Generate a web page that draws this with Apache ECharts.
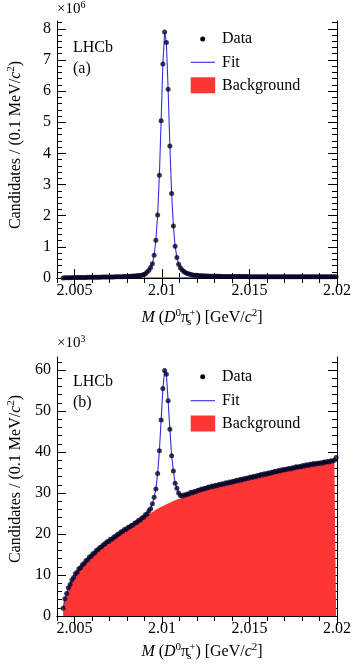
<!DOCTYPE html>
<html><head><meta charset="utf-8">
<script src="https://cdn.jsdelivr.net/npm/echarts@6/dist/echarts.min.js"></script>
<style>html,body{margin:0;padding:0;background:#fff}#c{width:354px;height:668px}</style>
</head><body><div id="c"></div><script>
// ---- binning (GeV): first bin centre and bin width (0.1 MeV) ----
const firstBinCenter = 2.00435;
const binWidth = 0.0001;
const xMin = 2.004, xMax = 2.02;
const xMajorTicks = [2.005, 2.01, 2.015, 2.02];
const xTickLabels = ['2.005', '2.01', '2.015', '2.02'];
const topYTicks = [0, 1, 2, 3, 4, 5, 6, 7, 8];
const bottomYTicks = [0, 10, 20, 30, 40, 50, 60];

// ---- panel (a): candidates ×10^6 ----
const topCounts = [
0.003,0.006,0.008,0.010,0.011,0.012,0.013,0.014,
0.015,0.016,0.017,0.018,0.019,0.020,0.021,0.022,0.023,0.024,
0.025,0.026,0.027,0.028,0.029,0.030,0.031,0.032,0.033,0.034,
0.035,0.036,0.037,0.038,0.040,0.042,0.044,0.046,0.048,0.051,
0.054,0.058,0.062,0.067,0.072,0.078,0.084,0.091,0.11,0.14,
0.19,0.25,0.34,0.46,0.73,1.21,2.02,3.30,5.05,6.87,
7.90,7.56,6.06,4.24,2.71,1.67,1.02,0.66,0.44,0.33,
0.26,0.21,0.17,0.145,0.125,0.11,0.10,0.092,0.086,0.080,
0.076,0.072,0.069,0.066,0.064,0.062,0.060,0.058,0.057,0.056,
0.055,0.054,0.053,0.052,0.051,0.050,0.050,0.049,0.048,0.048,
0.047,0.047,0.046,0.046,0.046,0.045,0.045,0.045,0.044,0.044,
0.044,0.044,0.043,0.043,0.043,0.043,0.043,0.042,0.042,0.042,
0.042,0.042,0.042,0.041,0.041,0.041,0.041,0.041,0.041,0.041,
0.041,0.041,0.041,0.041,0.041,0.040,0.040,0.040,0.040,0.040,
0.040,0.040,0.040,0.040,0.040,0.040,0.040,0.040,0.040,0.040,
0.040,0.040,0.040,0.040,0.040,0.040,0.040,0.040,0.040];
const topFit = topCounts; // fit passes through the (high-statistics) points
const topBackground = [
0.002,0.004,0.006,0.007,0.008,0.009,0.009,0.010,
0.011,0.011,0.012,0.012,0.013,0.013,0.014,0.014,0.015,0.015,
0.016,0.016,0.016,0.017,0.017,0.017,0.018,0.018,0.018,0.019,
0.019,0.019,0.020,0.020,0.020,0.021,0.021,0.021,0.021,0.022,
0.022,0.022,0.022,0.023,0.023,0.023,0.023,0.024,0.024,0.024,
0.024,0.025,0.025,0.025,0.025,0.026,0.026,0.026,0.026,0.026,
0.027,0.027,0.027,0.027,0.027,0.028,0.028,0.028,0.028,0.028,
0.029,0.029,0.029,0.029,0.029,0.029,0.030,0.030,0.030,0.030,
0.030,0.030,0.031,0.031,0.031,0.031,0.031,0.031,0.031,0.032,
0.032,0.032,0.032,0.032,0.032,0.032,0.032,0.032,0.032,0.032,
0.032,0.033,0.033,0.033,0.033,0.033,0.033,0.033,0.033,0.033,
0.033,0.033,0.033,0.033,0.033,0.034,0.034,0.034,0.034,0.034,
0.034,0.034,0.034,0.034,0.034,0.034,0.034,0.034,0.034,0.034,
0.034,0.035,0.035,0.035,0.035,0.035,0.035,0.035,0.035,0.035,
0.035,0.035,0.035,0.035,0.035,0.035,0.035,0.035,0.035,0.035,
0.035,0.036,0.036,0.036,0.036,0.036,0.036,0.036,0.036];

// ---- panel (b): candidates ×10^3 ----
const bottomCounts = [
1.9,4.2,5.5,6.9,7.7,8.8,9.4,10.3,
10.7,11.5,11.8,12.5,12.8,13.5,13.7,14.4,14.6,15.2,
15.4,16.0,16.2,16.7,16.9,17.4,17.6,18.1,18.2,18.7,
18.8,19.3,19.4,19.9,20.0,20.5,20.6,21.1,21.1,21.6,
21.7,22.1,22.2,22.7,22.8,23.3,23.4,23.9,24.1,24.7,
24.9,25.7,26.2,27.4,28.95,31.0,34.8,40.3,47.8,55.5,
59.9,59.0,52.5,45.6,39.1,35.4,32.4,31.2,30.0,29.4,
29.3,29.5,29.5,29.8,29.8,30.2,30.1,30.4,30.4,30.7,
30.7,31.0,30.9,31.2,31.2,31.5,31.4,31.7,31.6,31.9,
31.8,32.1,32.0,32.3,32.2,32.5,32.4,32.7,32.6,32.9,
32.8,33.1,33.0,33.3,33.2,33.5,33.4,33.7,33.6,33.9,
33.8,34.1,34.0,34.3,34.2,34.5,34.4,34.7,34.6,34.9,
34.8,35.1,35.0,35.3,35.2,35.5,35.4,35.7,35.6,35.8,
35.8,36.0,35.9,36.2,36.1,36.4,36.3,36.5,36.4,36.7,
36.6,36.9,36.7,37.0,36.9,37.2,37.0,37.3,37.2,37.4,
37.3,37.6,37.5,37.7,37.6,37.9,37.8,38.0,38.7];
const bottomFit = [
1.9,4.1,5.6,6.8,7.8,8.7,9.5,10.2,
10.8,11.4,11.9,12.4,12.9,13.4,13.8,14.3,14.7,15.1,
15.5,15.9,16.3,16.6,17.0,17.3,17.7,18.0,18.3,18.6,
18.9,19.2,19.5,19.8,20.1,20.4,20.7,21.0,21.2,21.5,
21.8,22.0,22.3,22.6,22.9,23.2,23.5,23.8,24.2,24.6,
25.0,25.6,26.3,27.3,28.95,31.0,34.8,40.3,47.8,55.5,
59.9,59.0,52.5,45.6,39.1,35.4,32.4,31.2,30.0,29.5,
29.35,29.4,29.55,29.7,29.85,30.0,30.15,30.3,30.45,30.6,
30.75,30.9,31.0,31.15,31.3,31.4,31.5,31.6,31.7,31.8,
31.9,32.0,32.1,32.2,32.3,32.4,32.5,32.6,32.7,32.8,
32.9,33.0,33.1,33.2,33.3,33.4,33.5,33.6,33.7,33.8,
33.9,34.0,34.1,34.2,34.3,34.4,34.5,34.6,34.7,34.8,
34.9,35.0,35.1,35.2,35.3,35.4,35.5,35.55,35.65,35.75,
35.85,35.9,36.0,36.1,36.2,36.25,36.35,36.4,36.5,36.6,
36.65,36.75,36.8,36.9,36.95,37.05,37.1,37.2,37.25,37.35,
37.4,37.5,37.55,37.65,37.7,37.75,37.85,37.9,38.0];
const bottomBackground = [
1.9,4.1,5.6,6.8,7.8,8.7,9.5,10.2,
10.8,11.4,11.9,12.4,12.9,13.4,13.8,14.3,14.7,15.1,
15.5,15.9,16.3,16.6,17.0,17.3,17.7,18.0,18.3,18.6,
18.9,19.2,19.5,19.8,20.1,20.4,20.7,21.0,21.2,21.5,
21.8,22.0,22.3,22.55,22.85,23.15,23.45,23.75,24.05,24.35,
24.6,24.9,25.15,25.4,25.65,25.9,26.15,26.4,26.6,26.85,
27.05,27.25,27.45,27.65,27.85,28.05,28.2,28.4,28.55,28.7,
28.85,29.0,29.15,29.3,29.45,29.6,29.75,29.9,30.05,30.2,
30.3,30.45,30.6,30.7,30.85,30.95,31.1,31.2,31.3,31.45,
31.55,31.65,31.8,31.9,32.0,32.1,32.2,32.3,32.4,32.5,
32.6,32.7,32.8,32.9,33.0,33.1,33.2,33.3,33.4,33.5,
33.6,33.7,33.8,33.9,34.0,34.1,34.2,34.3,34.4,34.5,
34.6,34.7,34.8,34.9,35.0,35.1,35.2,35.25,35.35,35.45,
35.55,35.6,35.7,35.8,35.9,35.95,36.05,36.1,36.2,36.3,
36.35,36.45,36.5,36.6,36.65,36.75,36.8,36.9,36.95,37.05,
37.1,37.2,37.25,37.35,37.4,37.45,37.55,37.6,37.7];

// ---------------------------------------------------------------
const FONT = 'Liberation Serif';
const RED = '#fd3535', BLUE = '#2f2fe0', DOT = '#06062a';
const pairs = arr => arr.map((v, i) => [+(firstBinCenter + i * binWidth).toFixed(5), v]);
const xMinorTicks = []; for (let k = 0; k <= 16; k++) xMinorTicks.push(+(xMin + k * 0.001).toFixed(3));
function minorList(max, step) { const a = []; for (let v = 0; v <= max + 1e-9; v += step) a.push(+v.toFixed(4)); return a; }

const grids = [
  { left: 57, top: 21, width: 283, height: 257 },
  { left: 57, top: 357, width: 283, height: 259 }
];
const yMax = [8.25, 63.2];
const yMajor = [topYTicks, bottomYTicks];
const yMinor = [minorList(8.25, 0.2), minorList(63.2, 2)];

const xAxes = [], yAxes = [];
const lineSty = { show: true, lineStyle: { color: '#000', width: 1 } };
for (let g = 0; g < 2; g++) {
  xAxes.push({ gridIndex: g, type: 'value', min: xMin, max: xMax, position: 'bottom', axisLine: lineSty,
    axisTick: { show: true, inside: true, length: 9, customValues: xMajorTicks, lineStyle: { color: '#000' } },
    axisLabel: { show: true, customValues: xMajorTicks, margin: 5, color: '#000', fontFamily: FONT, fontSize: 16,
      formatter: v => xTickLabels[xMajorTicks.findIndex(t => Math.abs(t - v) < 1e-7)] || '' },
    splitLine: { show: false } });
  xAxes.push({ gridIndex: g, type: 'value', min: xMin, max: xMax, position: 'bottom', axisLine: { show: false },
    axisTick: { show: true, inside: true, length: 5, customValues: xMinorTicks, lineStyle: { color: '#000' } },
    axisLabel: { show: false }, splitLine: { show: false } });
  xAxes.push({ gridIndex: g, type: 'value', min: xMin, max: xMax, position: 'top', axisLine: lineSty,
    axisTick: { show: true, inside: true, length: 9, customValues: xMajorTicks, lineStyle: { color: '#000' } },
    axisLabel: { show: false }, splitLine: { show: false } });
  xAxes.push({ gridIndex: g, type: 'value', min: xMin, max: xMax, position: 'top', axisLine: { show: false },
    axisTick: { show: true, inside: true, length: 5, customValues: xMinorTicks, lineStyle: { color: '#000' } },
    axisLabel: { show: false }, splitLine: { show: false } });
  yAxes.push({ gridIndex: g, type: 'value', min: 0, max: yMax[g], position: 'left', axisLine: lineSty,
    axisTick: { show: true, inside: true, length: 9, customValues: yMajor[g], lineStyle: { color: '#000' } },
    axisLabel: { show: true, customValues: yMajor[g], margin: 6, color: '#000', fontFamily: FONT, fontSize: 16 },
    splitLine: { show: false } });
  yAxes.push({ gridIndex: g, type: 'value', min: 0, max: yMax[g], position: 'left', axisLine: { show: false },
    axisTick: { show: true, inside: true, length: 5, customValues: yMinor[g], lineStyle: { color: '#000' } },
    axisLabel: { show: false }, splitLine: { show: false } });
  yAxes.push({ gridIndex: g, type: 'value', min: 0, max: yMax[g], position: 'right', axisLine: lineSty,
    axisTick: { show: true, inside: true, length: 9, customValues: yMajor[g], lineStyle: { color: '#000' } },
    axisLabel: { show: false }, splitLine: { show: false } });
  yAxes.push({ gridIndex: g, type: 'value', min: 0, max: yMax[g], position: 'right', axisLine: { show: false },
    axisTick: { show: true, inside: true, length: 5, customValues: yMinor[g], lineStyle: { color: '#000' } },
    axisLabel: { show: false }, splitLine: { show: false } });
}

const panels = [
  { data: topCounts, fit: topFit, bg: topBackground },
  { data: bottomCounts, fit: bottomFit, bg: bottomBackground }
];
const series = [];
panels.forEach((p, g) => {
  const xi = g * 4, yi = g * 4;
  series.push({ type: 'line', xAxisIndex: xi, yAxisIndex: yi, data: pairs(p.bg), showSymbol: false, symbol: 'none',
    lineStyle: { width: 0, color: RED }, areaStyle: { color: RED, opacity: 1 }, silent: true, z: 2 });
  series.push({ type: 'line', xAxisIndex: xi, yAxisIndex: yi, data: pairs(p.fit), showSymbol: false, symbol: 'none',
    lineStyle: { width: 1.1, color: BLUE }, silent: true, z: 3 });
  series.push({ type: 'scatter', xAxisIndex: xi, yAxisIndex: yi, data: pairs(p.data), symbol: 'circle', symbolSize: 5,
    itemStyle: { color: DOT }, silent: true, z: 4 });
});

const rich = {
  i: { fontStyle: 'italic', fontFamily: FONT, fontSize: 16, fill: '#000' },
  n: { fontFamily: FONT, fontSize: 16, fill: '#000' },
  sup: { fontFamily: FONT, fontSize: 11, fill: '#000', verticalAlign: 'top', lineHeight: 10 },
  sub: { fontFamily: FONT, fontSize: 11, fill: '#000', verticalAlign: 'bottom', lineHeight: 10, width: 0 }
};
const xTitle = '{i|M}{n| (}{i|D}{sup|0}{n|π}{sub|s}{sup|+}{n|) [GeV/}{i|c}{sup|2}{n|]}';
const yTitle = '{n|Candidates / (0.1 MeV/}{i|c}{sup|2}{n|)}';

function txt(x, y, text, extra) {
  return Object.assign({ type: 'text', x: x, y: y, silent: true,
    style: Object.assign({ text: text, fontFamily: FONT, fontSize: 16, fill: '#000', align: 'left', verticalAlign: 'middle' }, extra || {}) });
}
const graphics = [];
const panelY = [0, 334];
const letters = ['(a)', '(b)'];
const expo = ['6', '3'];
for (let g = 0; g < 2; g++) {
  const o = panelY[g];
  graphics.push(txt(202, o + 318, xTitle, { rich: rich, align: 'center', lineHeight: 20 }));
  graphics.push(Object.assign(txt(15.5, o + 145, yTitle, { rich: rich, align: 'center', lineHeight: 20 }), { rotation: Math.PI / 2 }));
  graphics.push(txt(73, o + 48, 'LHCb'));
  graphics.push(txt(73, o + 69, letters[g]));
  graphics.push(txt(57, o + 9, '{n|×10}{sup|' + expo[g] + '}', { rich: { n: { fontFamily: FONT, fontSize: 15, fill: '#000' }, sup: { fontFamily: FONT, fontSize: 10, fill: '#000', verticalAlign: 'top', lineHeight: 9 } }, lineHeight: 18 }));
  const ly = g === 0 ? [39, 62.3, 85.3] : [376.7, 400.7, 423.5];
  graphics.push({ type: 'circle', silent: true, shape: { cx: 202.7, cy: ly[0], r: 2.5 }, style: { fill: '#000' } });
  graphics.push(txt(222, ly[0], 'Data'));
  graphics.push({ type: 'line', silent: true, shape: { x1: 190.7, y1: ly[1], x2: 215, y2: ly[1] }, style: { stroke: BLUE, lineWidth: 1.1 } });
  graphics.push(txt(222, ly[1], 'Fit'));
  graphics.push({ type: 'rect', silent: true, shape: { x: 190.7, y: ly[2] - 8, width: 24.5, height: 16 }, style: { fill: RED } });
  graphics.push(txt(222, ly[2], 'Background'));
}

const chart = echarts.init(document.getElementById('c'), null, { renderer: 'canvas' });
chart.setOption({
  animation: false,
  backgroundColor: '#fff',
  grid: grids,
  xAxis: xAxes,
  yAxis: yAxes,
  series: series,
  graphic: graphics
});
</script></body></html>
